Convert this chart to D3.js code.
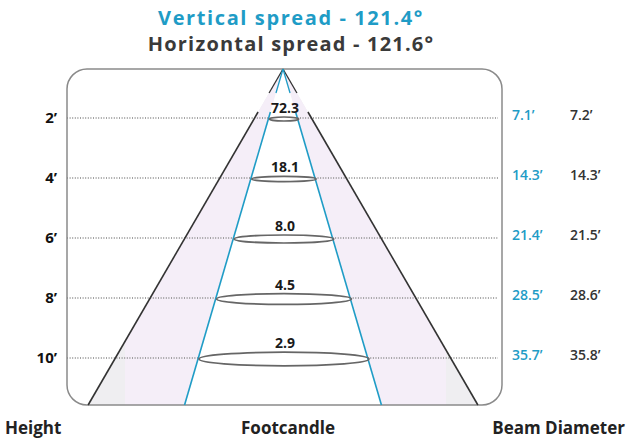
<!DOCTYPE html>
<html><head><meta charset="utf-8">
<script src="https://cdn.jsdelivr.net/npm/d3@7"></script>
<style>
html,body{margin:0;padding:0;background:#fff;}
svg{display:block;font-family:"Open Sans","DejaVu Sans",sans-serif;}
</style></head>
<body>
<svg id="chart" width="629" height="442"></svg>
<script>
// ---- data ----
const heights = [2, 4, 6, 8, 10];
const heightLabels = ["2’", "4’", "6’", "8’", "10’"];
const footcandles = [72.3, 18.1, 8.0, 4.5, 2.9];
const verticalBeam = [7.1, 14.3, 21.4, 28.5, 35.7];
const horizontalBeam = [7.2, 14.3, 21.5, 28.6, 35.8];
const spreadTitles = ["Vertical spread - 121.4°", "Horizontal spread - 121.6°"];
const axisTitles = ["Height", "Footcandle", "Beam Diameter"];

// ---- layout ----
const box = {x0: 67, x1: 502, y0: 69, y1: 405, r: 20};
const apex = {x: 283, y: 69};
const teal = "#1f9cc6", dark = "#333", grayLine = "#8a8a8a";
const y = d3.scaleLinear().domain([2, 10]).range([118, 358]);
const innerSlope = 0.293, outerSlope = 0.58;
const hwInner = yy => (yy - apex.y) * innerSlope;
const hwOuter = yy => (yy - apex.y) * outerSlope;

const svg = d3.select("#chart");

// titles
svg.selectAll("text.title").data(spreadTitles).join("text")
  .attr("class", "title")
  .attr("x", 291).attr("y", (d, i) => 25 + i * 26)
  .attr("text-anchor", "middle")
  .attr("font-size", 20).attr("font-weight", 700)
  .attr("letter-spacing", (d, i) => i === 0 ? 1.6 : 1.2)
  .attr("fill", (d, i) => i === 0 ? teal : "#3a3a3a")
  .text(d => d);

// clip for box
svg.append("clipPath").attr("id", "boxclip").append("rect")
  .attr("x", box.x0).attr("y", box.y0).attr("width", box.x1 - box.x0).attr("height", box.y1 - box.y0).attr("rx", box.r);

const g = svg.append("g").attr("clip-path", "url(#boxclip)");
const yb = box.y1;
const outerPoly = [[apex.x, apex.y], [apex.x - hwOuter(yb), yb], [apex.x + hwOuter(yb), yb]];
const innerPoly = [[apex.x, apex.y], [apex.x - hwInner(yb), yb], [apex.x + hwInner(yb), yb]];
g.append("clipPath").attr("id", "outerclip").append("path").attr("d", d3.line()(outerPoly) + "Z");
g.append("path").attr("d", d3.line()(outerPoly) + "Z").attr("fill", "#efeef1");
g.append("rect").attr("x", 125).attr("y", box.y0).attr("width", 446 - 125).attr("height", box.y1 - box.y0)
  .attr("fill", "#f5eef8").attr("clip-path", "url(#outerclip)");
g.append("path").attr("d", d3.line()(innerPoly) + "Z").attr("fill", "#fff");

// dotted level lines (two segments, outside the inner cone)
heights.forEach(h => {
  const yy = y(h);
  [[box.x0, apex.x - hwInner(yy)], [apex.x + hwInner(yy), box.x1 - 4]].forEach(([a, b]) => {
    svg.append("line").attr("x1", a).attr("x2", b).attr("y1", yy).attr("y2", yy)
      .attr("stroke", "#858585").attr("stroke-width", 1.3).attr("stroke-dasharray", "1,1.6");
  });
});

// box
svg.append("rect").attr("x", box.x0).attr("y", box.y0)
  .attr("width", box.x1 - box.x0).attr("height", box.y1 - box.y0).attr("rx", box.r)
  .attr("fill", "none").attr("stroke", grayLine).attr("stroke-width", 1.5);

// cone lines with gap for the top label
const gapTop = 93, gapBot = 112;
[[-1, outerSlope, dark], [1, outerSlope, dark], [-1, innerSlope, teal], [1, innerSlope, teal]].forEach(([s, k, c]) => {
  const px = yy => apex.x + s * (yy - apex.y) * k;
  svg.append("line").attr("x1", apex.x).attr("y1", apex.y).attr("x2", px(gapTop)).attr("y2", gapTop)
    .attr("stroke", c).attr("stroke-width", 1.3);
  svg.append("line").attr("x1", px(gapBot)).attr("y1", gapBot).attr("x2", px(box.y1)).attr("y2", box.y1)
    .attr("stroke", c).attr("stroke-width", 1.6);
});

// ellipses + footcandle labels
const fmt = d3.format(".1f");
heights.forEach((h, i) => {
  const yy = y(h) + 1;
  const rx = hwInner(yy);
  const ry = Math.max(2, rx * 0.08);
  svg.append("ellipse").attr("cx", apex.x + 1).attr("cy", yy).attr("rx", rx).attr("ry", ry)
    .attr("fill", "none").attr("stroke", "#666").attr("stroke-width", 1.7);
  svg.append("text").attr("x", apex.x + 2).attr("y", yy - ry - 4)
    .attr("text-anchor", "middle").attr("font-size", 14).attr("font-weight", 700).attr("fill", "#1a1a1a")
    .text(fmt(footcandles[i]));
});

// height labels
svg.selectAll("text.h").data(heights).join("text").attr("class", "h")
  .attr("x", 57).attr("y", d => y(d) + 5).attr("text-anchor", "end")
  .attr("font-size", 15).attr("font-weight", 700).attr("fill", "#111")
  .text((d, i) => heightLabels[i]);

// beam diameters
svg.selectAll("text.v").data(heights).join("text").attr("class", "v")
  .attr("x", 512).attr("y", d => y(d) + 2)
  .attr("font-size", 14).attr("font-weight", 600).attr("fill", teal)
  .text((d, i) => verticalBeam[i] + "’");
svg.selectAll("text.hb").data(heights).join("text").attr("class", "hb")
  .attr("x", 570).attr("y", d => y(d) + 2)
  .attr("font-size", 14).attr("font-weight", 600).attr("fill", "#333")
  .text((d, i) => horizontalBeam[i].toFixed(1) + "’");

// bottom axis titles
const bx = [[5, "start"], [288, "middle"], [625, "end"]];
svg.selectAll("text.ax").data(axisTitles).join("text").attr("class", "ax")
  .attr("x", (d, i) => bx[i][0]).attr("y", 434).attr("text-anchor", (d, i) => bx[i][1])
  .attr("font-size", 17).attr("font-weight", 700).attr("fill", "#222")
  .text(d => d);
</script>
</body></html>
